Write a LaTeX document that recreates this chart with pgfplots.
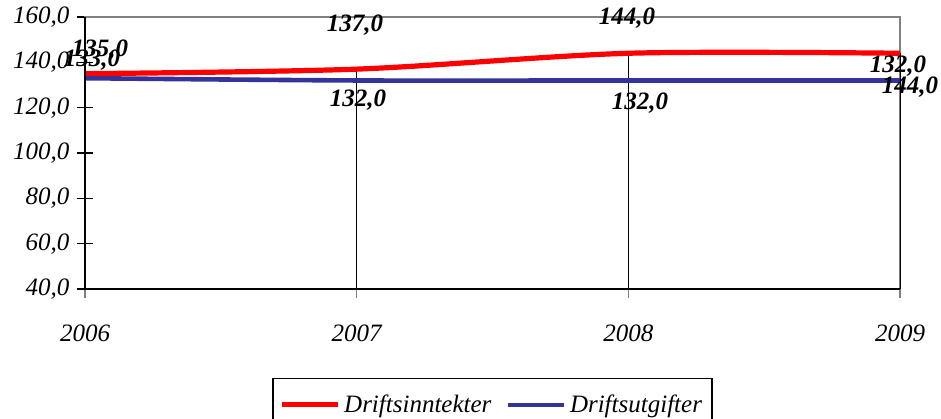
\documentclass[border=0pt]{standalone}
\usepackage{fontspec}
\setmainfont{Liberation Serif}
\usepackage{pgfplots}
\usepackage{pgfplotstable}
\pgfplotsset{compat=1.18}
\definecolor{exred}{RGB}{255,0,0}
\definecolor{exblue}{RGB}{51,51,153}
\pgfplotstableread{
x y
2006 135
2007 137
2008 144
2009 144
}\inntekter
\pgfplotstableread{
x y
2006 133
2007 132
2008 132
2009 132
}\utgifter
\pgfplotstableread{
x y
2007 137
2008 144
2009 144
}\drops
\pgfplotstableread{
x y lab
2006.055 145.4 135,0
2006.026 141.0 133,0
2006.994 156.5 137,0
2007.005 123.4 132,0
2007.995 159.6 144,0
2008.043 122.1 132,0
2008.993 138.4 132,0
2009.037 129.1 144,0
}\labels
\begin{document}
\begin{tikzpicture}
\useasboundingbox (0,0) rectangle (470.5pt,209pt);
\begin{axis}[
  at={(42.5pt,64.5pt)}, anchor=south west,
  scale only axis, width=407.5pt, height=136pt,
  xmin=2006, xmax=2009, ymin=40, ymax=160,
  clip=false,
  axis line style={draw=gray, line width=0.8pt},
  xtick={2006,2007,2008,2009},
  xticklabels={2006,2007,2008,2009},
  ytick={40,60,80,100,120,140,160},
  yticklabels={{40,0},{60,0},{80,0},{100,0},{120,0},{140,0},{160,0}},
  xtick pos=bottom, ytick pos=left,
  tick align=center,
  major tick length=8.5pt,
  xtick style={draw=gray, line width=0.8pt},
  ytick style={draw=black, line width=0.6pt},
  ticklabel style={font=\fontsize{12.5}{14}\selectfont\itshape},
  xticklabel style={yshift=-10pt},
  yticklabel style={xshift=0pt},
  legend style={at={(0.5,-0.327)}, anchor=north, draw=black, line width=0.6pt,
    font=\fontsize{12.5}{15}\selectfont\itshape, legend columns=2,
    /tikz/every even column/.append style={column sep=5pt},
    inner xsep=3pt, inner ysep=6pt},
  legend image code/.code={\draw[#1] (0pt,0pt) -- (28pt,0pt);},
]
\addplot[ycomb, black, line width=0.5pt, no marks, forget plot] table[x=x,y=y]{\drops};
\addplot[exred, line width=2.6pt, smooth, no marks] table[x=x,y=y]{\inntekter};
\addlegendentry{Driftsinntekter}
\addplot[exblue, line width=2.3pt, smooth, no marks] table[x=x,y=y]{\utgifter};
\addlegendentry{Driftsutgifter}
\addplot[only marks, mark=none, forget plot, point meta=explicit symbolic,
  nodes near coords, nodes near coords style={anchor=center, inner sep=0pt, font=\fontsize{12.5}{14}\selectfont\bfseries\itshape}]
  table[x=x,y=y,meta=lab]{\labels};
\draw[black, line width=0.8pt] (rel axis cs:0,1) -- (rel axis cs:0,0) -- (rel axis cs:1,0);
\end{axis}
\end{tikzpicture}
\end{document}
